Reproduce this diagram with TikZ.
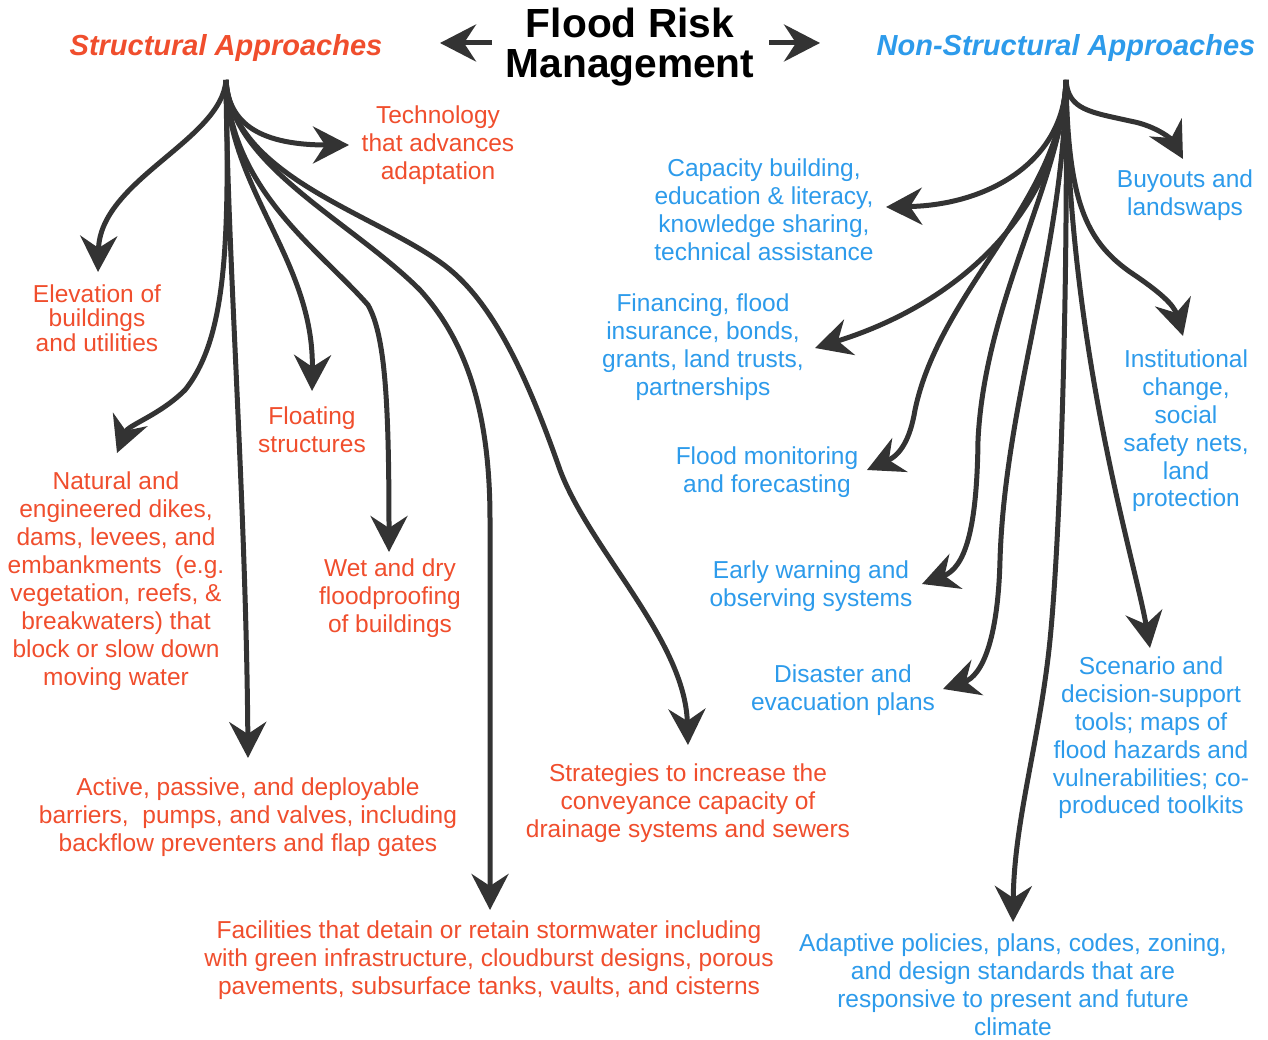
\documentclass[tikz,border=0pt]{standalone}
\usepackage{fontspec}
\setmainfont{Liberation Sans}
\usetikzlibrary{arrows.meta}
\definecolor{fr}{RGB}{240,78,45}
\definecolor{fb}{RGB}{45,155,235}
\definecolor{ar}{RGB}{51,51,51}
\begin{document}
\begin{tikzpicture}[x=1pt,y=-1pt,
  conn/.style={draw=ar, line width=5pt, -{Stealth[length=36pt,width=37pt,inset=12pt]}},
  txt/.style={align=center, inner sep=0pt, font=\fontsize{24.5pt}{28pt}\selectfont},
  redtxt/.style={txt, text=fr},
  bluetxt/.style={txt, text=fb},
  head/.style={inner sep=0pt, font=\fontsize{29pt}{34pt}\selectfont\bfseries\itshape}]
\useasboundingbox[fill=white] (0,0) rectangle (1268,1040);

% title and headings
\node[inner sep=0pt, align=center, font=\fontsize{40.7pt}{40pt}\selectfont\bfseries] (title) at (630,47) {Flood Risk\\Management};
\node[head, text=fr] (sa) at (226,48) {Structural Approaches};
\node[head, text=fb] (na) at (1066,48) {Non-Structural Approaches};
\coordinate (sroot) at ([shift={(0,32)}]sa.center);
\coordinate (rroot) at ([shift={(0,32)}]na.center);

\draw[conn] ([shift={(-138,-4)}]title.center) -- ([shift={(-190,-4)}]title.center);
\draw[conn] ([shift={(139,-4)}]title.center) -- ([shift={(190,-4)}]title.center);

% structural nodes
\node[redtxt] (tech) at (438,145) {Technology\\that advances\\adaptation};
\node[redtxt, font=\fontsize{24.5pt}{24.5pt}\selectfont] (elev) at (97,318) {Elevation of\\buildings\\and utilities};
\node[redtxt] (nat) at (116,581) {Natural and\\engineered dikes,\\dams, levees, and\\embankments\ \ (e.g.\\vegetation, reefs, \&\\breakwaters) that\\block or slow down\\moving water};
\node[redtxt] (float) at (312,430) {Floating\\structures};
\node[redtxt] (wet) at (390,598) {Wet and dry\\floodproofing\\of buildings};
\node[redtxt] (act) at (248,817) {Active, passive, and deployable\\barriers,\ \ pumps, and valves, including\\backflow preventers and flap gates};
\node[redtxt] (strat) at (688,803) {Strategies to increase the\\conveyance capacity of\\drainage systems and sewers};
\node[redtxt] (fac) at (489,960) {Facilities that detain or retain stormwater including\\with green infrastructure, cloudburst designs, porous\\pavements, subsurface tanks, vaults, and cisterns};

% non-structural nodes
\node[bluetxt] (buy) at (1185,195) {Buyouts and\\landswaps};
\node[bluetxt] (cap) at (764,210) {Capacity building,\\education \& literacy,\\knowledge sharing,\\technical assistance};
\node[bluetxt, font=\fontsize{24.5pt}{27.8pt}\selectfont] (inst) at (1186,431) {Institutional\\change,\\social\\safety nets,\\land\\protection};
\node[bluetxt] (fin) at (703,347) {Financing, flood\\insurance, bonds,\\grants, land trusts,\\partnerships};
\node[bluetxt] (mon) at (767,472) {Flood monitoring\\and forecasting};
\node[bluetxt] (ew) at (811,586) {Early warning and\\observing systems};
\node[bluetxt] (dis) at (843,690) {Disaster and\\evacuation plans};
\node[bluetxt, font=\fontsize{24.5pt}{27.8pt}\selectfont] (scen) at (1151,738) {Scenario and\\decision-support\\tools; maps of\\flood hazards and\\vulnerabilities; co-\\produced toolkits};
\node[bluetxt] (adap) at (1013,985) {Adaptive policies, plans, codes, zoning,\\and design standards that are\\responsive to present and future\\climate};

% structural connectors
\draw[conn] (sroot) .. controls (228,120) and (255,145) .. ([shift={(-89,0)}]tech.center);
\draw[conn] (sroot) .. controls (222,140) and (100,180) .. ([shift={(1,-46)}]elev.center);
\draw[conn] (sroot) .. controls (230,250) and (225,340) .. (185,390) .. controls (160,415) and (128,425) .. ([shift={(1,-128)}]nat.center);
\draw[conn] (sroot) .. controls (227,250) and (246,500) .. ([shift={(0,-59)}]act.center);
\draw[conn] (sroot) .. controls (228,190) and (314,260) .. ([shift={(0,-39)}]float.center);
\draw[conn] (sroot) .. controls (230,190) and (320,250) .. (368,305) .. controls (385,335) and (389,400) .. ([shift={(-1,-46)}]wet.center);
\draw[conn] (sroot) .. controls (230,165) and (350,220) .. (420,290) .. controls (470,345) and (490,420) .. (490,520) -- ([shift={(1,-50)}]fac.center);
\draw[conn] (sroot) .. controls (232,175) and (370,212) .. (440,262) .. controls (490,297) and (525,370) .. (560,470) .. controls (590,550) and (685,640) .. ([shift={(0,-58)}]strat.center);

% non-structural connectors
\draw[conn] (rroot) .. controls (1068,110) and (1090,112) .. (1130,121) .. controls (1158,126) and (1173,141) .. ([shift={(-2,-36)}]buy.center);
\draw[conn] (rroot) .. controls (1065,160) and (990,205) .. ([shift={(122,-3)}]cap.center);
\draw[conn] (rroot) .. controls (1068,200) and (1085,240) .. (1130,272) .. controls (1160,292) and (1174,305) .. ([shift={(-3,-95)}]inst.center);
\draw[conn] (rroot) .. controls (1062,200) and (970,300) .. ([shift={(112,1)}]fin.center);
\draw[conn] (rroot) .. controls (1062,200) and (940,290) .. (915,410) .. controls (910,440) and (900,455) .. ([shift={(100,-2)}]mon.center);
\draw[conn] (rroot) .. controls (1062,180) and (985,300) .. (978,440) .. controls (977,530) and (965,568) .. ([shift={(111,-2)}]ew.center);
\draw[conn] (rroot) .. controls (1064,250) and (1005,400) .. (1000,560) .. controls (998,640) and (982,676) .. ([shift={(100,-1)}]dis.center);
\draw[conn] (rroot) .. controls (1068,350) and (1135,560) .. ([shift={(-1,-90)}]scen.center);
\draw[conn] (rroot) .. controls (1068,300) and (1060,540) .. (1050,640) .. controls (1040,740) and (1014,820) .. ([shift={(0,-63)}]adap.center);
\end{tikzpicture}
\end{document}
